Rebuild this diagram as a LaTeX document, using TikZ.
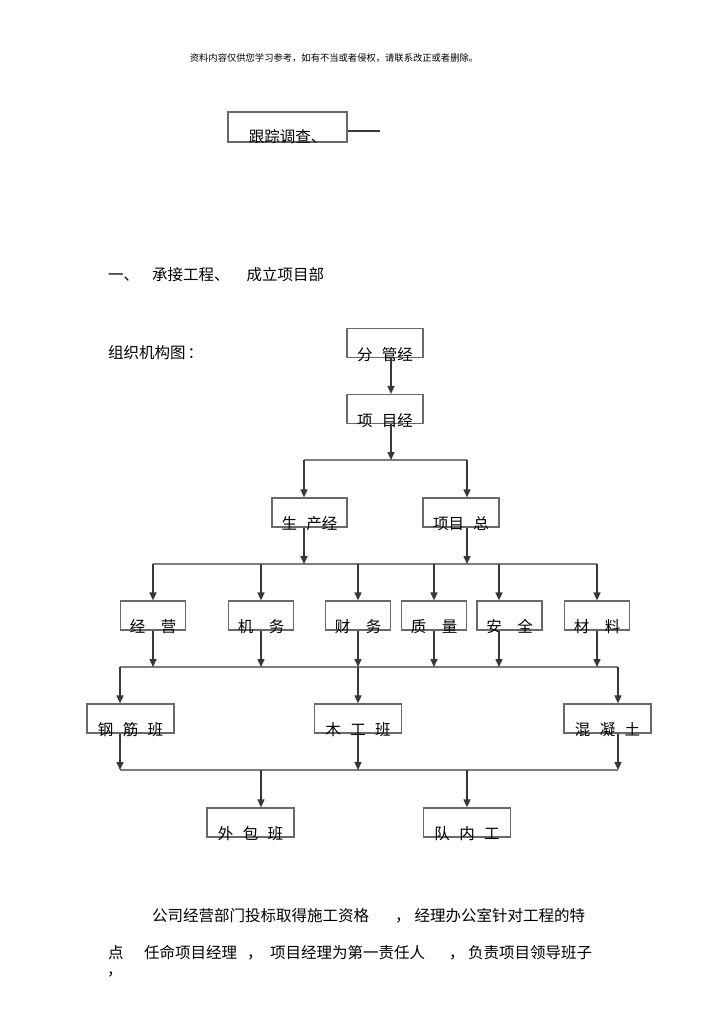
\documentclass[tikz,border=0pt]{standalone}
\usepackage{fontspec}
\setmainfont{Noto Sans CJK SC}
\usetikzlibrary{arrows.meta}
\definecolor{boxgray}{RGB}{105,105,105}
\definecolor{arrowgray}{RGB}{55,55,55}
\definecolor{busgray}{RGB}{125,125,125}
\newcommand\cnfont{\fontsize{15.5pt}{18pt}\selectfont}
\newcommand\cgap{\hspace{0.6em}}
\newcommand\wgap{\hspace{1em}}

\begin{document}
\begin{tikzpicture}[
        % --- THIẾT LẬP CHUNG: 1 đơn vị = 1 điểm ảnh ---
        x=1pt, y=-1pt,
        % Khung chữ nhật
        box/.style={
            rectangle,
            draw=boxgray,
            line width=1.2pt,
            inner sep=0pt,
            minimum height=29pt
        },
        topbox/.style={box, minimum width=76pt},
        deptbox/.style={box, minimum width=65pt},
        teambox/.style={box, minimum width=87pt},
        % Chữ nằm sát cạnh dưới của khung
        lbl/.style={label={[boxlabel]south:#1}},
        boxlabel/.style={anchor=center, yshift=4pt, inner sep=0pt, font=\cnfont},
        % Đoạn văn
        txt/.style={anchor=west, inner sep=0pt, font=\cnfont},
        % Mũi tên và đường ngang
        arrow/.style={
            ->,
            draw=arrowgray,
            line width=1.5pt
        },
        >={Triangle[length=8pt, width=7pt]},
        bus/.style={draw=busgray, line width=1.3pt}
    ]

    \path[fill=white, use as bounding box] (0,0) rectangle (720,1018);

    % --- GHI CHÚ ĐẦU TRANG ---
    \node[inner sep=0pt, font=\fontsize{9.3pt}{11pt}\selectfont] (ghichu) at (334,58) {资料内容仅供您学习参考，如有不当或者侵权，请联系改正或者删除。};

    % --- KHUNG 跟踪调查 ---
    \node[box, minimum width=119pt, minimum height=30pt, label={[boxlabel, yshift=2pt]south:跟踪调查、}] (gzdc) at (287.5,127) {};
    \coordinate (gzdc-r) at (380,131);
    \draw[draw=arrowgray, line width=1.5pt] (gzdc.east |- gzdc-r) -- (gzdc-r);

    % --- TIÊU ĐỀ ---
    \node[txt] (tieude) at (108,275) {一、\hspace{13pt}承接工程、\hspace{17pt}成立项目部};
    \node[txt] (sodo) at (108,353) {组织机构图\hspace{2pt}：};

    % --- CÁC KHUNG CỦA SƠ ĐỒ ---
    \node[topbox, lbl={分\cgap 管经}] (fgj) at (385,343) {};
    \node[topbox, lbl={项\cgap 目经}] (xmj) at (385,409) {};
    \node[topbox, minimum width=75pt, lbl={生\cgap 产经}] (scj) at (309.5,512.5) {};
    \node[topbox, lbl={项目\cgap 总}] (xmz) at (461,512.5) {};

    % Hàng các bộ phận
    \node[deptbox, lbl={经\wgap 营}] (jy) at (153,615.5) {};
    \node[deptbox, lbl={机\wgap 务}] (jw) at (261,615.5) {};
    \node[deptbox, lbl={财\wgap 务}] (cw) at (358,615.5) {};
    \node[deptbox, lbl={质\wgap 量}] (zl) at (434,615.5) {};
    \node[deptbox, lbl={安\wgap 全}] (aq) at (509.5,615.5) {};
    \node[deptbox, lbl={材\wgap 料}] (cl) at (597,615.5) {};

    % Hàng các tổ
    \node[teambox, lbl={钢\cgap 筋\cgap 班}] (gjb) at (130.5,718.5) {};
    \node[teambox, lbl={木\cgap 工\cgap 班}] (mgb) at (358,718.5) {};
    \node[teambox, lbl={混\cgap 凝\cgap 土}] (hnt) at (607.5,718.5) {};

    \node[teambox, lbl={外\cgap 包\cgap 班}] (wbb) at (250.5,822.5) {};
    \node[teambox, lbl={队\cgap 内\cgap 工}] (dng) at (467,822.5) {};

    % --- ĐƯỜNG NGANG ---
    \coordinate (b1l) at (304,460);
    \coordinate (b1r) at (467,460);
    \coordinate (b2l) at (153,564);
    \coordinate (b2r) at (597,564);
    \coordinate (b3l) at (120,667);
    \coordinate (b3r) at (618,667);
    \coordinate (b4l) at (120,770);
    \coordinate (b4r) at (618,770);
    \draw[bus] (b1l) -- (b1r);
    \draw[bus] (b2l) -- (b2r);
    \draw[bus] (b3l) -- (b3r);
    \draw[bus] (b4l) -- (b4r);

    % --- MŨI TÊN ---
    \draw[arrow] ([xshift=6pt]fgj.south) -- ([xshift=6pt]xmj.north);
    \draw[arrow] ([xshift=6pt]xmj.south) -- ([xshift=6pt]xmj.south |- b1l);
    \draw[arrow] (b1l) -- (b1l |- scj.north);
    \draw[arrow] (b1r) -- (b1r |- xmz.north);
    \draw[arrow] (b1l |- scj.south) -- (b1l |- b2l);
    \draw[arrow] (b1r |- xmz.south) -- (b1r |- b2l);

    \foreach \n/\dx in {jy/0, jw/0, cw/0, zl/0, aq/-10.5, cl/0} {
        \draw[arrow] ([xshift=\dx pt]\n.north |- b2l) -- ([xshift=\dx pt]\n.north);
        \draw[arrow] ([xshift=\dx pt]\n.south) -- ([xshift=\dx pt]\n.south |- b3l);
    }

    \foreach \n/\dx in {gjb/-10.5, mgb/0, hnt/10.5} {
        \draw[arrow] ([xshift=\dx pt]\n.north |- b3l) -- ([xshift=\dx pt]\n.north);
        \draw[arrow] ([xshift=\dx pt]\n.south) -- ([xshift=\dx pt]\n.south |- b4l);
    }

    \foreach \n/\dx in {wbb/10.5, dng/0}
        \draw[arrow] ([xshift=\dx pt]\n.north |- b4l) -- ([xshift=\dx pt]\n.north);

    % --- ĐOẠN VĂN CUỐI ---
    \node[txt] (doan1) at (152,916) {公司经营部门投标取得施工资格\hspace{26pt}，\hspace{4pt}经理办公室针对工程的特};
    \node[txt] (doan2) at (108,953) {点\hspace{20.5pt}任命项目经理\hspace{10pt}，\hspace{7.5pt}项目经理为第一责任人\hspace{24pt}，\hspace{3.5pt}负责项目领导班子};
    \node[txt] (doan3) at (107,974) {，};

\end{tikzpicture}
\end{document}
